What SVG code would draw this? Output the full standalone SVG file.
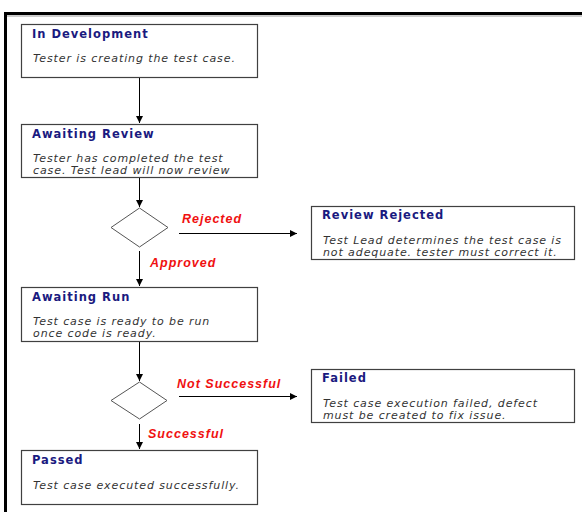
<svg xmlns="http://www.w3.org/2000/svg" width="582" height="512" viewBox="0 0 582 512">
<defs>
<marker id="arr" markerWidth="8" markerHeight="8" refX="7" refY="4" orient="auto" markerUnits="userSpaceOnUse">
<path d="M0,0.5 L7,4 L0,7.5 Z" fill="#000"/>
</marker>
<style>
.box{fill:#fff;stroke:#404040;stroke-width:1.2}
.dia{fill:#fff;stroke:#555;stroke-width:1}
.t{font-family:"DejaVu Sans",Verdana,sans-serif;font-size:11.5px;font-weight:bold;letter-spacing:1px;fill:#1a1a80}
.b{font-family:"DejaVu Sans",Verdana,sans-serif;font-size:11px;font-style:italic;letter-spacing:0.9px;fill:#333}
.l{font-family:"Liberation Sans",Arial,sans-serif;font-size:12.5px;font-weight:bold;font-style:italic;letter-spacing:1px;fill:#f01010}
.c{stroke:#000;stroke-width:1;fill:none}
</style>
</defs>
<rect width="582" height="512" fill="#fff"/>
<path d="M5.5,512 V13.5 H582" fill="none" stroke="#000" stroke-width="3"/>
<path d="M7,16 H582" stroke="#999" stroke-width="1"/>
<g id="connectors">
<line class="c" x1="139.5" y1="78" x2="139.5" y2="123" marker-end="url(#arr)"/>
<line class="c" x1="139.5" y1="178" x2="139.5" y2="207" marker-end="url(#arr)"/>
<line class="c" x1="179" y1="233.5" x2="297" y2="233.5" marker-end="url(#arr)"/>
<line class="c" x1="139.5" y1="251" x2="139.5" y2="286" marker-end="url(#arr)"/>
<line class="c" x1="139.5" y1="342" x2="139.5" y2="381" marker-end="url(#arr)"/>
<line class="c" x1="179" y1="396.5" x2="297" y2="396.5" marker-end="url(#arr)"/>
<line class="c" x1="139.5" y1="424" x2="139.5" y2="449" marker-end="url(#arr)"/>
<text class="l" x="182" y="223">Rejected</text>
<text class="l" x="150" y="267">Approved</text>
<text class="l" x="177" y="388">Not Successful</text>
<text class="l" x="148" y="438">Successful</text>
</g>
<g id="in-development">
<rect class="box" x="21.5" y="24.5" width="236" height="53"/>
<text class="t" x="32" y="38">In Development</text>
<text class="b" x="33" y="62">Tester is creating the test case.</text>
</g>
<g id="awaiting-review">
<rect class="box" x="21.5" y="124.5" width="236" height="53"/>
<text class="t" x="32" y="138">Awaiting Review</text>
<text class="b" x="33" y="162">Tester has completed the test</text>
<text class="b" x="33" y="174">case. Test lead will now review</text>
</g>
<g id="decision-review">
<polygon class="dia" points="139.5,208 168,227.5 139.5,247 111,227.5"/>
</g>
<g id="review-rejected">
<rect class="box" x="311.5" y="206.5" width="263" height="53"/>
<text class="t" x="322" y="219">Review Rejected</text>
<text class="b" x="323" y="244">Test Lead determines the test case is</text>
<text class="b" x="323" y="256">not adequate. tester must correct it.</text>
</g>
<g id="awaiting-run">
<rect class="box" x="21.5" y="287.5" width="236" height="54"/>
<text class="t" x="32" y="301">Awaiting Run</text>
<text class="b" x="33" y="325">Test case is ready to be run</text>
<text class="b" x="33" y="337">once code is ready.</text>
</g>
<g id="decision-run">
<polygon class="dia" points="139.5,382 167,400.5 139.5,419 111,400.5"/>
</g>
<g id="failed">
<rect class="box" x="311.5" y="369.5" width="263" height="53"/>
<text class="t" x="322" y="382">Failed</text>
<text class="b" x="323" y="407">Test case execution failed, defect</text>
<text class="b" x="323" y="419">must be created to fix issue.</text>
</g>
<g id="passed">
<rect class="box" x="21.5" y="450.5" width="236" height="54"/>
<text class="t" x="32" y="464">Passed</text>
<text class="b" x="33" y="489">Test case executed successfully.</text>
</g>
</svg>
